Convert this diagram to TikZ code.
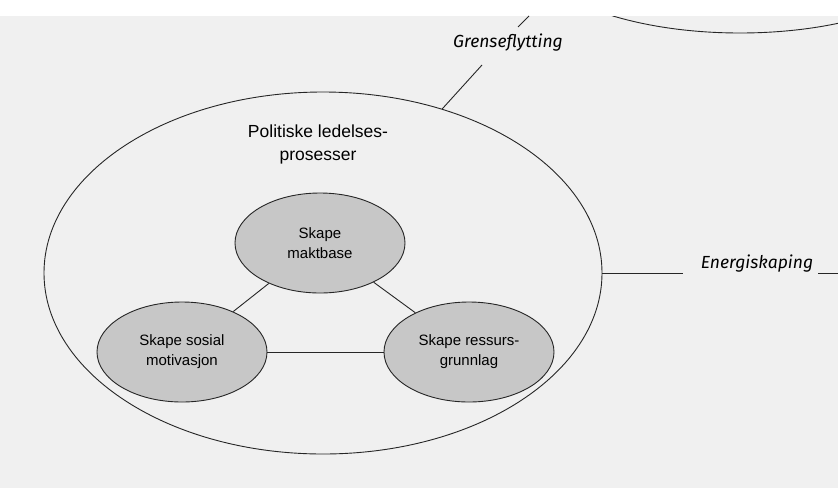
\documentclass[tikz,border=0pt]{standalone}
\usepackage{fontspec}
\setmainfont{Liberation Sans}
\newfontfamily\flowfont{Fira Sans}
\usetikzlibrary{shapes.geometric}

\tikzset{
  bubble/.style={ellipse, draw=black!85, fill=black!22, line width=0.9pt,
    minimum width=170pt, minimum height=100pt, inner sep=0pt, align=center,
    font=\fontsize{15}{20}\selectfont},
  link/.style={draw=black!85, line width=0.9pt},
  flow/.style={font=\flowfont\itshape\fontsize{17.5}{20}\selectfont, inner sep=0pt}
}

\begin{document}
\begin{tikzpicture}[x=1pt,y=-1pt]

    % scanned page
    \fill[white] (0,0) rectangle (838,488);
    \fill[black!6] (0,16) rectangle (838,488);
    \useasboundingbox (0,0) rectangle (838,488);

    % outer domain and the cut off neighbour above
    \node[ellipse, draw=black!85, line width=0.9pt, minimum width=558pt,
      minimum height=362pt, inner sep=0pt] (outer) at (323,273) {};
    \begin{scope}
        \clip (0,16) rectangle (838,488);
        \draw[link] (740,-57) ellipse [x radius=217pt, y radius=90pt];
    \end{scope}

    \node[font=\fontsize{17.5}{23}\selectfont, align=center] (title) at (318,144) {Politiske ledelses-\\prosesser};

    % the three processes
    \node[bubble] (mb) at (320,243) {Skape\\maktbase};
    \node[bubble] (ss) at (182,352) {Skape sosial\\motivasjon};
    \node[bubble] (rg) at (469,352) {Skape ressurs-\\grunnlag};

    \draw[link] (mb) -- (ss);
    \draw[link] (mb) -- (rg);
    \draw[link] (ss) -- (rg);

    % flows across the border
    \node[flow] (grense) at (508,43) {Grenseflytting};
    \node[flow] (energi) at (757,264) {Energiskaping};

    \coordinate (g1) at (482,65);
    \coordinate (g2) at (518,27);
    \coordinate (g3) at (529,16);
    \coordinate (e1) at (683,273);
    \coordinate (e2) at (818,273);
    \coordinate (e3) at (838,273);

    \draw[link] (outer.54) -- (g1);
    \draw[link] (g2) -- (g3);
    \draw[link] (outer.east) -- (e1);
    \draw[link] (e2) -- (e3);

\end{tikzpicture}
\end{document}
